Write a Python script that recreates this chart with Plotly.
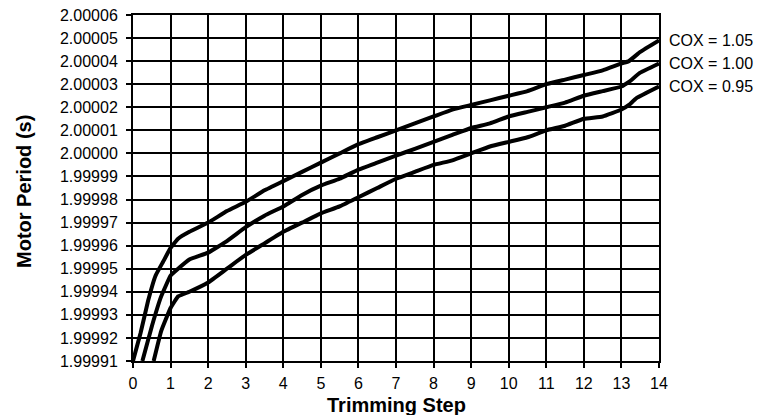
import plotly.graph_objects as go

# Trimming step values and motor period (s) for each COX setting
x_105 = [0, 0.2, 0.4, 0.6, 0.8, 1.0, 1.2, 1.5, 2, 2.5, 3, 3.5, 4, 4.5, 5, 5.5, 6, 6.5, 7,
         7.5, 8, 8.5, 9, 9.5, 10, 10.5, 11, 11.5, 12, 12.5, 13, 13.2, 13.5, 14]
y_105 = [1.99991, 1.999922, 1.999936, 1.999947, 1.999953, 1.999959, 1.999963, 1.999966,
         1.999970, 1.999975, 1.999979, 1.999984, 1.999988, 1.999992, 1.999996, 2.000000,
         2.000004, 2.000007, 2.000010, 2.000013, 2.000016, 2.000019, 2.000021, 2.000023,
         2.000025, 2.000027, 2.000030, 2.000032, 2.000034, 2.000036, 2.000039, 2.000040,
         2.000044, 2.000049]

x_100 = [0.25, 0.5, 0.75, 1.0, 1.2, 1.5, 2, 2.5, 3, 3.5, 4, 4.5, 5, 5.5, 6, 6.5, 7, 7.5,
         8, 8.5, 9, 9.5, 10, 10.5, 11, 11.5, 12, 12.5, 13, 13.2, 13.5, 14]
y_100 = [1.99991, 1.999925, 1.999938, 1.999947, 1.999950, 1.999954, 1.999957, 1.999962,
         1.999968, 1.999973, 1.999977, 1.999982, 1.999986, 1.999989, 1.999993, 1.999996,
         1.999999, 2.000002, 2.000005, 2.000008, 2.000011, 2.000013, 2.000016, 2.000018,
         2.000020, 2.000022, 2.000025, 2.000027, 2.000029, 2.000031, 2.000035, 2.000039]

x_095 = [0.55, 0.75, 1.0, 1.2, 1.5, 2, 2.5, 3, 3.5, 4, 4.5, 5, 5.5, 6, 6.5, 7, 7.5, 8,
         8.5, 9, 9.5, 10, 10.5, 11, 11.5, 12, 12.5, 13, 13.2, 13.4, 14]
y_095 = [1.99991, 1.999923, 1.999933, 1.999938, 1.999940, 1.999944, 1.999950, 1.999956,
         1.999961, 1.999966, 1.999970, 1.999974, 1.999977, 1.999981, 1.999985, 1.999989,
         1.999992, 1.999995, 1.999997, 2.000000, 2.000003, 2.000005, 2.000007, 2.000010,
         2.000012, 2.000015, 2.000016, 2.000019, 2.000021, 2.000024, 2.000029]

series_names = ["COX = 1.05", "COX = 1.00", "COX = 0.95"]
x_ticks = list(range(0, 15))
y_ticks = [1.99991, 1.99992, 1.99993, 1.99994, 1.99995, 1.99996, 1.99997, 1.99998,
           1.99999, 2.00000, 2.00001, 2.00002, 2.00003, 2.00004, 2.00005, 2.00006]
y_tick_labels = ["%.5f" % v for v in y_ticks]
x_title = "Trimming Step"
y_title = "Motor Period (s)"

FONT = "Liberation Sans, Arial, Helvetica, sans-serif"

fig = go.Figure()
for xs, ys, name in [(x_105, y_105, series_names[0]),
                     (x_100, y_100, series_names[1]),
                     (x_095, y_095, series_names[2])]:
    fig.add_trace(go.Scatter(x=xs, y=ys, mode="lines", name=name,
                             line=dict(color="black", width=4, shape="spline", smoothing=0.3),
                             cliponaxis=True, hoverinfo="skip"))
    fig.add_annotation(x=xs[-1], y=ys[-1], text=name, showarrow=False,
                       xanchor="left", yanchor="middle", xshift=8,
                       font=dict(family=FONT, size=16, color="black"))

# axis titles
fig.add_annotation(xref="paper", yref="paper", x=0.5, y=0, yanchor="top", yshift=-31,
                   text="<b>%s</b>" % x_title, showarrow=False,
                   font=dict(family=FONT, size=20, color="black"))
fig.add_annotation(xref="paper", yref="paper", x=0, y=0.5, xanchor="center",
                   xshift=-109, yshift=-4, textangle=-90,
                   text="<b>%s</b>" % y_title, showarrow=False,
                   font=dict(family=FONT, size=20, color="black"))

fig.update_layout(
    width=758, height=415,
    margin=dict(l=133, r=99, t=15, b=54, autoexpand=False),
    paper_bgcolor="white", plot_bgcolor="white",
    showlegend=False,
    font=dict(family=FONT, size=16, color="black"),
)
fig.update_xaxes(
    range=[0, 14], tickvals=x_ticks, ticktext=[str(v) for v in x_ticks],
    showgrid=True, gridcolor="black", gridwidth=2,
    showline=True, linecolor="black", linewidth=2, mirror=True,
    ticks="outside", ticklen=5, tickwidth=2, tickcolor="black",
    zeroline=False, ticklabelstandoff=2, automargin=False,
    tickfont=dict(family=FONT, size=16),
)
fig.update_yaxes(
    range=[1.99991, 2.00006], tickvals=y_ticks, ticktext=y_tick_labels,
    showgrid=True, gridcolor="black", gridwidth=2,
    showline=True, linecolor="black", linewidth=2, mirror=True,
    ticks="outside", ticklen=5, tickwidth=2, tickcolor="black",
    zeroline=False, ticklabelstandoff=5, automargin=False,
    tickfont=dict(family=FONT, size=16),
)

fig.write_html(
    "out.html",
    config={"displayModeBar": False},
    post_script="document.body.style.margin='0';document.body.style.overflow='hidden';",
)
